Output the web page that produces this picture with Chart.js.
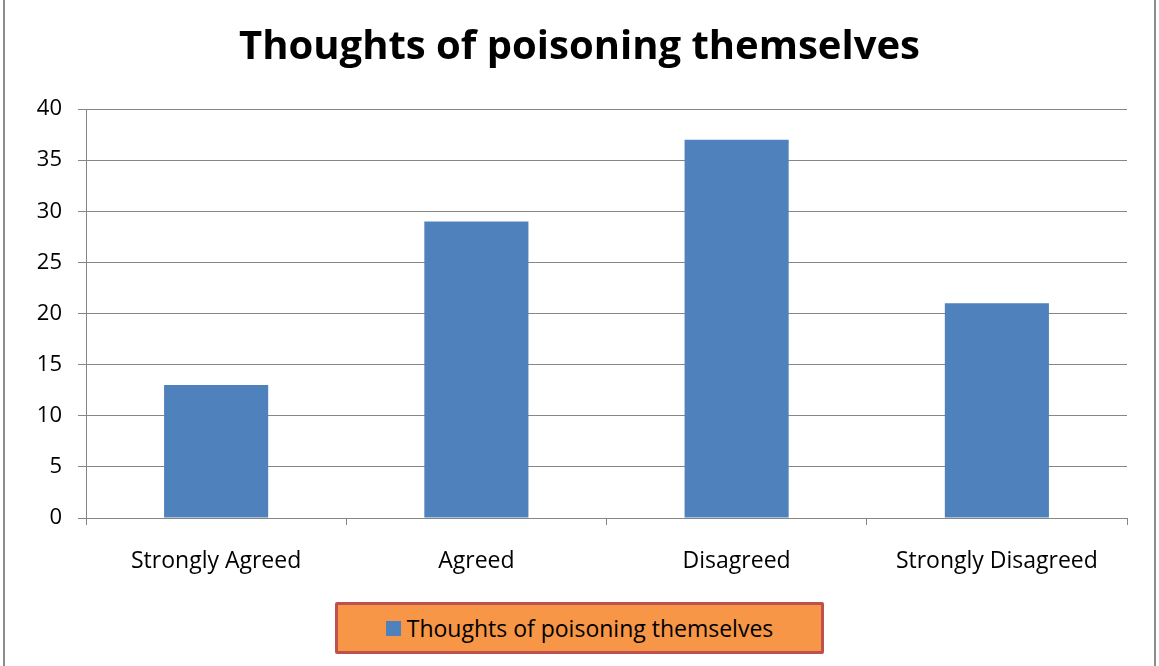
<!DOCTYPE html>
<html>
<head>
<meta charset="utf-8">
<script src="https://cdn.jsdelivr.net/npm/chart.js@4/dist/chart.umd.min.js"></script>
<style>
  html, body { margin: 0; padding: 0; background: #fff; }
  .wrap { position: relative; width: 1159px; height: 666px; overflow: hidden; }
  .edge { position: absolute; top: 0; bottom: 0; width: 2px; background: #8c8c8c; }
  .legend {
    position: absolute; left: 335px; top: 602px; width: 483px; height: 46px;
    background: #f79646; border: 3px solid #c0504d; border-radius: 2px;
    display: flex; align-items: center; justify-content: center;
    font-family: "Open Sans", sans-serif; font-size: 23px; color: #000;
  }
  .legend .swatch { width: 15px; height: 15px; margin-right: 6px; }
</style>
</head>
<body>
<div class="wrap">
  <canvas id="chart" width="1159" height="666"></canvas>
  <div class="edge" style="left:3px"></div>
  <div class="edge" style="left:1154px"></div>
  <div class="legend" id="legend"></div>
</div>
<script>
const categories = ["Strongly Agreed", "Agreed", "Disagreed", "Strongly Disagreed"];
const seriesName = "Thoughts of poisoning themselves";
const seriesValues = [13, 29, 37, 21];
const yTicks = [0, 5, 10, 15, 20, 25, 30, 35, 40];

const barColor = "#4f81bd";
const gridColor = "#868686";
const font = "'Open Sans', sans-serif";

// legend box (orange, like the original)
document.getElementById("legend").innerHTML =
  `<span class="swatch" style="background:${barColor}"></span>${seriesName}`;

new Chart(document.getElementById("chart"), {
  type: "bar",
  data: {
    labels: categories,
    datasets: [{
      label: seriesName,
      data: seriesValues,
      backgroundColor: barColor,
      borderWidth: 0,
      categoryPercentage: 0.8,
      barPercentage: 0.5,
    }],
  },
  options: {
    responsive: false,
    animation: false,
    layout: { padding: { left: 32, right: 32, top: 0, bottom: 0 } },
    plugins: {
      legend: { display: false },
      tooltip: { enabled: false },
      title: {
        display: true,
        text: "Thoughts of poisoning themselves",
        color: "#000",
        font: { family: font, size: 40, weight: "bold", lineHeight: 1.2 },
        padding: { top: 24, bottom: 37 },
      },
    },
    scales: {
      x: {
        grid: { display: true, drawOnChartArea: false, drawTicks: true, tickLength: 7, color: gridColor, offset: true },
        border: { color: gridColor, width: 1 },
        ticks: { color: "#000", font: { family: font, size: 23 }, padding: 23, maxRotation: 0 },
        afterFit: (s) => { s.height = 148; },
      },
      y: {
        min: 0,
        max: 40,
        afterBuildTicks: (s) => { s.ticks = yTicks.map((v) => ({ value: v })); },
        grid: { color: gridColor, tickLength: 8 },
        border: { color: gridColor, width: 1 },
        ticks: { color: "#000", font: { family: font, size: 22 }, padding: 16 },
        afterFit: (s) => { s.width = 54; },
      },
    },
  },
});
</script>
</body>
</html>
